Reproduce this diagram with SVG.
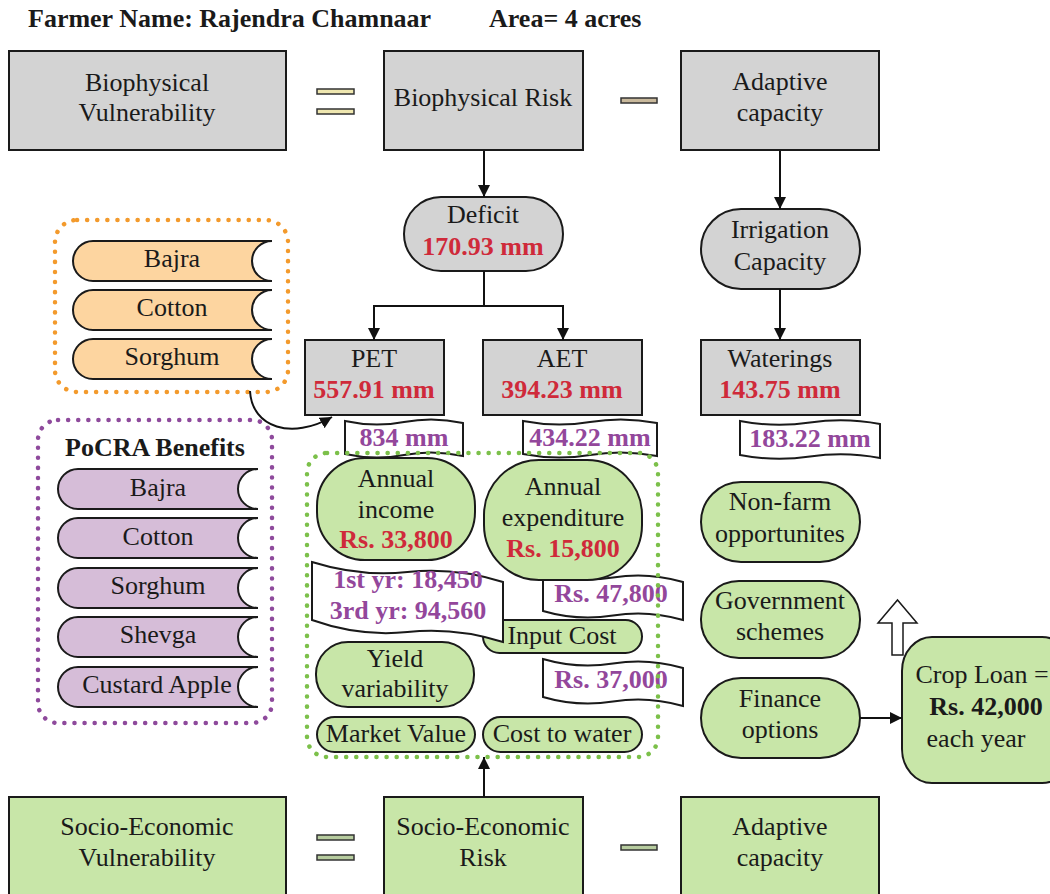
<svg xmlns="http://www.w3.org/2000/svg" width="1050" height="894" viewBox="0 0 1050 894">
  <defs>
    <marker id="arrow" viewBox="0 0 12 12" refX="12" refY="6" markerWidth="12" markerHeight="12" markerUnits="userSpaceOnUse" orient="auto">
      <path d="M0,0 L12,6 L0,12 Z" fill="#111"/>
    </marker>
    <style>
      text { font-family: "Liberation Serif", "Times New Roman", serif; font-size: 26px; fill: #1a1a1a; }
      .c { text-anchor: middle; }
      .b { font-weight: bold; }
      .red { fill: #cf2a3a; font-weight: bold; }
      .pur { fill: #93479b; font-weight: bold; }
      .box { stroke: #1a1a1a; stroke-width: 2; }
      .gray { fill: #d3d3d3; }
      .green { fill: #c8e6a8; }
      .orange { fill: #fdd5a0; }
      .purple { fill: #d6bdd8; }
      .tape { fill: #ffffff; stroke: #1a1a1a; stroke-width: 2; }
      .wire { fill: none; stroke: #111; stroke-width: 2; }
      .dots { fill: none; stroke-width: 4.5; stroke-linecap: round; stroke-dasharray: 0.1 10; }
      .bar { stroke: #333; stroke-width: 1.5; }
    </style>
  </defs>

  <rect width="1050" height="894" fill="#ffffff"/>

  <!-- heading -->
  <g id="heading">
    <text class="b" x="28" y="27">Farmer Name: Rajendra Chamnaar</text>
    <text class="b" x="489" y="27">Area= 4 acres</text>
  </g>

  <!-- biophysical equation row -->
  <g id="bio-vulnerability">
    <rect class="box gray" x="9" y="51" width="277" height="99"/>
    <text class="c" x="147" y="91">Biophysical</text>
    <text class="c" x="147" y="121">Vulnerability</text>
  </g>
  <g id="bio-equals">
    <rect class="bar" x="317" y="89" width="37" height="5" fill="#efe7b0"/>
    <rect class="bar" x="317" y="109" width="37" height="5" fill="#efe7b0"/>
  </g>
  <g id="bio-risk">
    <rect class="box gray" x="384" y="51" width="199" height="99"/>
    <text class="c" x="483" y="106">Biophysical Risk</text>
  </g>
  <g id="bio-minus">
    <rect class="bar" x="621" y="98" width="36" height="5" fill="#c9b99c"/>
  </g>
  <g id="bio-adaptive">
    <rect class="box gray" x="681" y="51" width="198" height="99"/>
    <text class="c" x="780" y="90">Adaptive</text>
    <text class="c" x="780" y="121">capacity</text>
  </g>

  <!-- water balance -->
  <g id="deficit">
    <rect class="box gray" x="404" y="197" width="159" height="74" rx="37"/>
    <text class="c" x="483" y="223">Deficit</text>
    <text class="c red" x="483" y="255">170.93 mm</text>
  </g>
  <g id="pet">
    <rect class="box gray" x="305" y="340" width="139" height="75"/>
    <text class="c" x="374" y="367">PET</text>
    <text class="c red" x="374" y="398">557.91 mm</text>
  </g>
  <g id="aet">
    <rect class="box gray" x="483" y="340" width="159" height="75"/>
    <text class="c" x="562" y="367">AET</text>
    <text class="c red" x="562" y="398">394.23 mm</text>
  </g>
  <g id="irrigation">
    <rect class="box gray" x="701" y="209" width="159" height="80" rx="40"/>
    <text class="c" x="780" y="238">Irrigation</text>
    <text class="c" x="780" y="270">Capacity</text>
  </g>
  <g id="waterings">
    <rect class="box gray" x="701" y="340" width="159" height="75"/>
    <text class="c" x="780" y="367">Waterings</text>
    <text class="c red" x="780" y="398">143.75 mm</text>
  </g>

  <!-- tape labels under the water balance boxes -->
  <g id="pet-note">
    <path class="tape" d="M345,421 Q374.5,427.5 404,422 Q433.5,416.5 463,423 L463,456 Q433.5,449.5 404,455 Q374.5,460.5 345,454 Z"/>
    <text class="c pur" x="404" y="446">834 mm</text>
  </g>
  <g id="aet-note">
    <path class="tape" d="M523,421 Q556.5,427.5 590,422 Q623.5,416.5 657,423 L657,456 Q623.5,449.5 590,455 Q556.5,460.5 523,454 Z"/>
    <text class="c pur" x="590" y="446">434.22 mm</text>
  </g>
  <g id="waterings-note">
    <path class="tape" d="M740,421 Q775,427.75 810,422.5 Q845,417.25 880,424 L880,458 Q845,451.25 810,456.5 Q775,461.75 740,455 Z"/>
    <text class="c pur" x="810" y="447">183.22 mm</text>
  </g>

  <!-- current crops -->
  <g id="crops">
    <rect class="dots" x="55" y="220" width="233" height="172" rx="22" stroke="#f39a2c"/>
    <g id="crop-bajra">
      <path class="box orange" d="M93,241 H272 A20,20 0 0 0 272,281 H93 A20,20 0 0 1 93,241 Z"/>
      <text class="c" x="172" y="267">Bajra</text>
    </g>
    <g id="crop-cotton">
      <path class="box orange" d="M93,290 H272 A20,20 0 0 0 272,330 H93 A20,20 0 0 1 93,290 Z"/>
      <text class="c" x="172" y="316">Cotton</text>
    </g>
    <g id="crop-sorghum">
      <path class="box orange" d="M93,339 H272 A20,20 0 0 0 272,379 H93 A20,20 0 0 1 93,339 Z"/>
      <text class="c" x="172" y="365">Sorghum</text>
    </g>
  </g>

  <!-- PoCRA benefits -->
  <g id="pocra">
    <rect class="dots" x="38" y="420" width="234" height="303" rx="20" stroke="#8e4a9c"/>
    <text class="c b" x="155" y="456">PoCRA Benefits</text>
    <g id="pocra-bajra">
      <path class="box purple" d="M78,469 H258 A20,20 0 0 0 258,509 H78 A20,20 0 0 1 78,469 Z"/>
      <text class="c" x="158" y="496">Bajra</text>
    </g>
    <g id="pocra-cotton">
      <path class="box purple" d="M78,518 H258 A20,20 0 0 0 258,558 H78 A20,20 0 0 1 78,518 Z"/>
      <text class="c" x="158" y="545">Cotton</text>
    </g>
    <g id="pocra-sorghum">
      <path class="box purple" d="M78,568 H258 A20,20 0 0 0 258,608 H78 A20,20 0 0 1 78,568 Z"/>
      <text class="c" x="158" y="594">Sorghum</text>
    </g>
    <g id="pocra-shevga">
      <path class="box purple" d="M78,617 H258 A20,20 0 0 0 258,657 H78 A20,20 0 0 1 78,617 Z"/>
      <text class="c" x="158" y="643">Shevga</text>
    </g>
    <g id="pocra-custard-apple">
      <path class="box purple" d="M78,667 H258 A20,20 0 0 0 258,707 H78 A20,20 0 0 1 78,667 Z"/>
      <text class="c" x="157" y="693">Custard Apple</text>
    </g>
  </g>

  <!-- socio-economic factors -->
  <g id="annual-income">
    <rect class="box green" x="317" y="458" width="158" height="102" rx="48"/>
    <text class="c" x="396" y="487">Annual</text>
    <text class="c" x="396" y="518">income</text>
    <text class="c red" x="396" y="548">Rs. 33,800</text>
  </g>
  <g id="expenditure-note">
    <path class="tape" d="M543,573 Q578,583.25 613,577.5 Q648,571.75 683,582 L683,620 Q648,609.75 613,615.5 Q578,621.25 543,611 Z"/>
    <text class="c pur" x="611" y="602">Rs. 47,800</text>
  </g>
  <g id="annual-expenditure">
    <rect class="box green" x="484" y="460" width="158" height="120" rx="55"/>
    <text class="c" x="563" y="495">Annual</text>
    <text class="c" x="563" y="526">expenditure</text>
    <text class="c red" x="563" y="557">Rs. 15,800</text>
  </g>
  <g id="input-cost">
    <rect class="box green" x="483" y="620" width="159" height="33" rx="16.5"/>
    <text class="c" x="562" y="644">Input Cost</text>
  </g>
  <g id="income-note">
    <path class="tape" d="M312,562 Q359.75,577 407.5,572 Q455.25,567 503,582 L503,642 Q455.25,627 407.5,632 Q359.75,637 312,620 Z"/>
    <text class="c pur" x="408" y="588">1st yr: 18,450</text>
    <text class="c pur" x="408" y="619">3rd yr: 94,560</text>
  </g>
  <g id="input-cost-note">
    <path class="tape" d="M543,659 Q578,669.25 613,663.5 Q648,657.75 683,668 L683,706 Q648,695.75 613,701.5 Q578,707.25 543,697 Z"/>
    <text class="c pur" x="611" y="688">Rs. 37,000</text>
  </g>
  <g id="yield-variability">
    <rect class="box green" x="316" y="642" width="158" height="65" rx="32"/>
    <text class="c" x="395" y="667">Yield</text>
    <text class="c" x="395" y="697">variability</text>
  </g>
  <g id="market-value">
    <rect class="box green" x="317" y="717" width="158" height="35" rx="17.5"/>
    <text class="c" x="396" y="742">Market Value</text>
  </g>
  <g id="cost-to-water">
    <rect class="box green" x="483" y="717" width="159" height="35" rx="17.5"/>
    <text class="c" x="562" y="742">Cost to water</text>
  </g>
  <g id="socio-factors">
    <rect class="dots" x="307" y="453" width="351" height="304" rx="20" stroke="#7cc04a"/>
  </g>

  <!-- adaptive options -->
  <g id="non-farm">
    <rect class="box green" x="701" y="482" width="159" height="80" rx="40"/>
    <text class="c" x="780" y="510">Non-farm</text>
    <text class="c" x="780" y="542">opportunites</text>
  </g>
  <g id="government-schemes">
    <rect class="box green" x="701" y="581" width="159" height="77" rx="38"/>
    <text class="c" x="780" y="609">Government</text>
    <text class="c" x="780" y="640">schemes</text>
  </g>
  <g id="finance-options">
    <rect class="box green" x="701" y="678" width="159" height="80" rx="40"/>
    <text class="c" x="780" y="707">Finance</text>
    <text class="c" x="780" y="738">options</text>
  </g>
  <g id="crop-loan">
    <rect class="box green" x="902" y="637" width="170" height="146" rx="30" ry="34"/>
    <text class="c" x="982" y="683">Crop Loan =</text>
    <text class="c b" x="986" y="715">Rs. 42,000</text>
    <text class="c" x="976" y="747">each year</text>
  </g>
  <g id="increase-arrow">
    <path d="M892,655 V623 H878 L897.5,600 L917,623 H903 V655 Z" fill="#ffffff" stroke="#1a1a1a" stroke-width="1.5"/>
  </g>

  <!-- socio-economic equation row -->
  <g id="se-vulnerability">
    <rect class="box green" x="9" y="797" width="277" height="110"/>
    <text class="c" x="147" y="835">Socio-Economic</text>
    <text class="c" x="147" y="866">Vulnerability</text>
  </g>
  <g id="se-equals">
    <rect class="bar" x="317" y="835" width="37" height="5" fill="#b7cc9f"/>
    <rect class="bar" x="317" y="855" width="37" height="5" fill="#b7cc9f"/>
  </g>
  <g id="se-risk">
    <rect class="box green" x="384" y="797" width="199" height="110"/>
    <text class="c" x="483" y="835">Socio-Economic</text>
    <text class="c" x="483" y="866">Risk</text>
  </g>
  <g id="se-minus">
    <rect class="bar" x="621" y="845" width="36" height="5" fill="#b7cc9f"/>
  </g>
  <g id="se-adaptive">
    <rect class="box green" x="681" y="797" width="198" height="110"/>
    <text class="c" x="780" y="835">Adaptive</text>
    <text class="c" x="780" y="866">capacity</text>
  </g>

  <!-- connectors -->
  <g id="connectors">
    <line class="wire" x1="484" y1="151" x2="484" y2="197" marker-end="url(#arrow)"/>
    <line class="wire" x1="780" y1="151" x2="780" y2="209" marker-end="url(#arrow)"/>
    <line class="wire" x1="484" y1="271" x2="484" y2="306"/>
    <line class="wire" x1="373" y1="306" x2="564" y2="306"/>
    <line class="wire" x1="374" y1="305" x2="374" y2="340" marker-end="url(#arrow)"/>
    <line class="wire" x1="563" y1="305" x2="563" y2="340" marker-end="url(#arrow)"/>
    <line class="wire" x1="780" y1="289" x2="780" y2="340" marker-end="url(#arrow)"/>
    <path class="wire" d="M250,391 C252,428 292,440 332,417" marker-end="url(#arrow)"/>
    <line class="wire" x1="860" y1="718" x2="902" y2="718" marker-end="url(#arrow)"/>
    <line class="wire" x1="484" y1="797" x2="484" y2="757" marker-end="url(#arrow)"/>
  </g>
</svg>
